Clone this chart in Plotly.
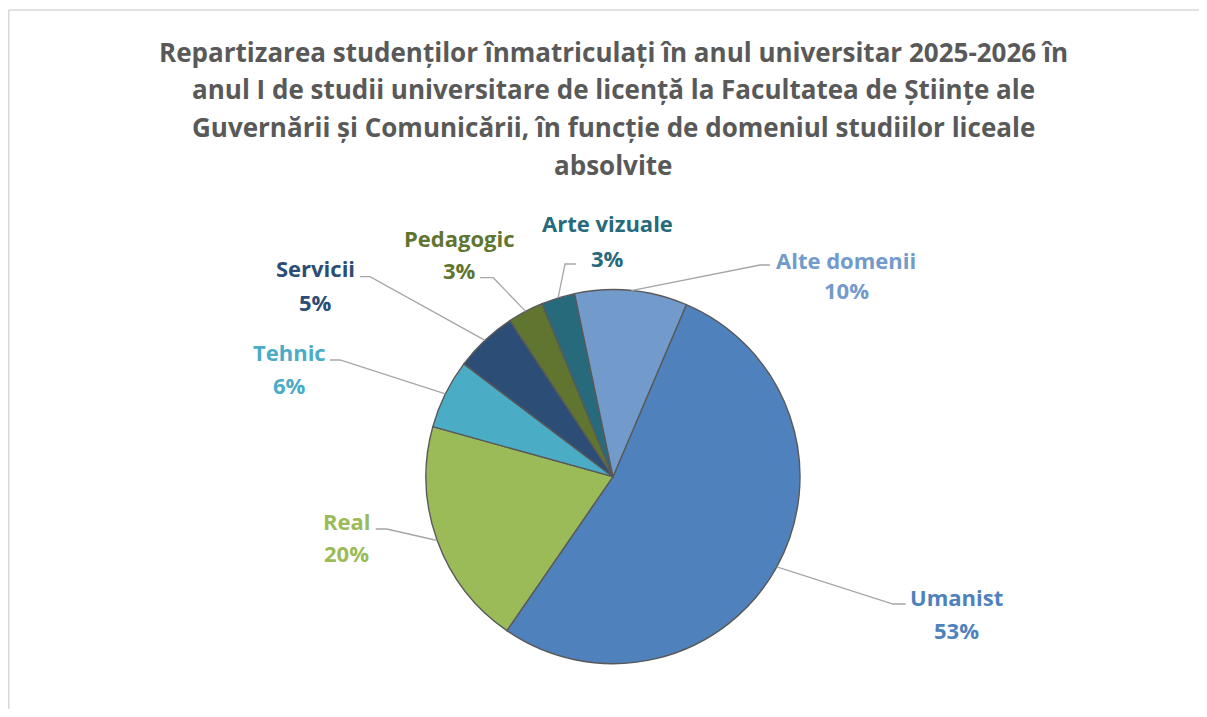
import math
import plotly.graph_objects as go

# page is offset by the browser's default 8px body margin
OFF = 8
W, H = 1207 - 2 * OFF, 717 - 2 * OFF

# ---- data ----
categories = ["Umanist", "Real", "Tehnic", "Servicii", "Pedagogic", "Arte vizuale", "Alte domenii"]
values = [53.2, 19.7, 6.0, 5.4, 3.1, 2.9, 9.7]
colors = ["#4F81BD", "#9BBB59", "#4BACC6", "#2C4D75", "#5F7530", "#276A7C", "#729ACA"]
title_lines = [
    "Repartizarea studenților înmatriculați în anul universitar 2025-2026 în",
    "anul I de studii universitare de licență la Facultatea de Științe ale",
    "Guvernării și Comunicării, în funcție de domeniul studiilor liceale",
    "absolvite",
]

# ---- layout constants (page pixels) ----
CX, CY, R = 613, 476.7, 187
ROT = 23.07
FONT = "Open Sans"
label_pos = {  # name centre, pct centre, elbow, line end
    "Umanist": ((956.7, 596.7), (956.7, 630), (893, 604), (905.7, 604)),
    "Real": ((346.7, 520.7), (346.7, 553), (386.7, 529), (375.7, 529)),
    "Tehnic": ((289.5, 351.7), (289.5, 385), (340, 360), (330, 360)),
    "Servicii": ((315, 268.3), (315, 301.7), (370, 276.7), (360, 276.7)),
    "Pedagogic": ((459.8, 238.3), (459.8, 270), (493.3, 277.7), (480, 277.7)),
    "Arte vizuale": ((607, 223.3), (607, 258.3), (565, 264), (576, 264)),
    "Alte domenii": ((846, 260), (846, 290), (760, 265), (770, 265)),
}
title_y = [52, 89.5, 127, 164.5]


def fx(px):
    return (px - OFF) / W


def fy(py):
    return 1 - (py - OFF) / H


fig = go.Figure(go.Pie(
    labels=categories,
    values=values,
    sort=False,
    direction="clockwise",
    rotation=ROT,
    marker=dict(colors=colors, line=dict(color="#595959", width=1.4)),
    textinfo="none",
    hoverinfo="label+percent",
    showlegend=False,
    domain=dict(x=[fx(CX - R), fx(CX + R)], y=[fy(CY + R), fy(CY - R)]),
))

shapes = [
    dict(type="line", xref="paper", yref="paper",
         x0=fx(8.75), x1=fx(8.75), y0=-0.1, y1=fy(10),
         line=dict(color="#D9D9D9", width=1.5), layer="below"),
    dict(type="line", xref="paper", yref="paper",
         x0=fx(8.75), x1=1.1, y0=fy(10), y1=fy(10),
         line=dict(color="#D9D9D9", width=1.5), layer="below"),
]
annotations = []

total = sum(values)
cum = 0.0
for cat, val, col in zip(categories, values, colors):
    mid = math.radians(ROT + 360 * (cum + val / 2) / total)
    cum += val
    sx = CX + R * math.sin(mid)
    sy = CY - R * math.cos(mid)
    (nx, ny), (px_, py_), (ex, ey), (lx, ly) = label_pos[cat]
    shapes.append(dict(type="path", xref="paper", yref="paper",
                       path=f"M {fx(sx)},{fy(sy)} L {fx(ex)},{fy(ey)} L {fx(lx)},{fy(ly)}",
                       line=dict(color="#A6A6A6", width=1.3)))
    pct = round(100 * val / total)
    annotations.append(dict(x=fx(nx), y=fy(ny), xref="paper", yref="paper", text=cat,
                            showarrow=False, xanchor="center", yanchor="middle",
                            font=dict(family=FONT, size=22, color=col, weight="bold")))
    annotations.append(dict(x=fx(px_), y=fy(py_), xref="paper", yref="paper", text=f"{pct}%",
                            showarrow=False, xanchor="center", yanchor="middle",
                            font=dict(family=FONT, size=22, color=col, weight="bold")))

for line, yy in zip(title_lines, title_y):
    annotations.append(dict(x=fx(613), y=fy(yy), xref="paper", yref="paper", text=line,
                            showarrow=False, xanchor="center", yanchor="middle",
                            font=dict(family=FONT, size=26, color="#595959", weight="bold")))

fig.update_layout(
    width=W, height=H,
    margin=dict(l=0, r=0, t=0, b=0),
    paper_bgcolor="white", plot_bgcolor="white",
    shapes=shapes, annotations=annotations,
)

fig.write_html("out.html")
